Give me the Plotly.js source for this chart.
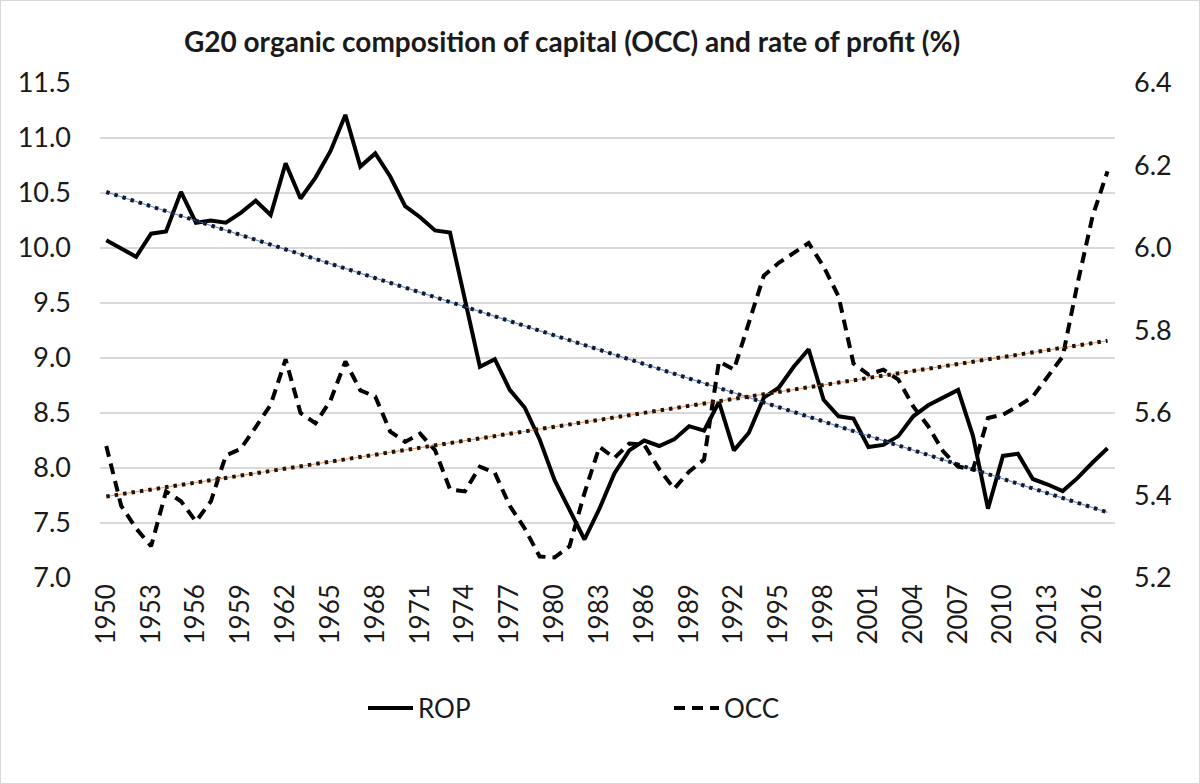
<!DOCTYPE html>
<html>
<head>
<meta charset="utf-8">
<script src="https://cdn.plot.ly/plotly-3.0.1.min.js"></script>
<style>
  html, body { margin: 0; padding: 0; background: #fff; }
  #wrap { position: relative; width: 1200px; height: 784px; }
  #chart { width: 1200px; height: 784px; }
  #frame { position: absolute; left: 0; top: 0; width: 1198px; height: 782px; border: 1px solid #d9d9d9; pointer-events: none; }
</style>
</head>
<body>
<div id="wrap"><div id="chart"></div><div id="frame"></div></div>
<script>
// ---- data ----
const years = [
  1950,1951,1952,1953,1954,1955,1956,1957,1958,1959,
  1960,1961,1962,1963,1964,1965,1966,1967,1968,1969,
  1970,1971,1972,1973,1974,1975,1976,1977,1978,1979,
  1980,1981,1982,1983,1984,1985,1986,1987,1988,1989,
  1990,1991,1992,1993,1994,1995,1996,1997,1998,1999,
  2000,2001,2002,2003,2004,2005,2006,2007,2008,2009,
  2010,2011,2012,2013,2014,2015,2016,2017
];

const rop = [
  10.07, 9.99, 9.92,10.13,10.15,10.51,10.23,10.25,10.23,10.32,
  10.43,10.30,10.77,10.45,10.64,10.88,11.21,10.74,10.86,10.65,
  10.38,10.28,10.16,10.14, 9.54, 8.92, 8.99, 8.71, 8.55, 8.26,
   7.89, 7.62, 7.35, 7.63, 7.95, 8.16, 8.25, 8.20, 8.26, 8.38,
   8.34, 8.60, 8.16, 8.32, 8.64, 8.73, 8.92, 9.08, 8.62, 8.47,
   8.45, 8.19, 8.21, 8.29, 8.47, 8.57, 8.64, 8.71, 8.29, 7.63,
   8.11, 8.13, 7.90, 7.85, 7.79, 7.91, 8.05, 8.18
];

const occ = [
  5.52, 5.375,5.32, 5.277,5.41, 5.386,5.337,5.386,5.497,5.513,
  5.566,5.62, 5.73, 5.60, 5.575,5.63, 5.725,5.655,5.64, 5.555,
  5.53, 5.55, 5.51, 5.415,5.41, 5.47, 5.455,5.375,5.32, 5.252,
  5.25, 5.277,5.406,5.518,5.491,5.526,5.523,5.464,5.416,5.458,
  5.487,5.725,5.705,5.82, 5.933,5.964,5.988,6.012,5.955,5.883,
  5.72, 5.693,5.705,5.681,5.616,5.568,5.507,5.47, 5.463,5.588,
  5.596,5.616,5.64, 5.689,5.737,5.915,6.077,6.186
];

const xTickYears = [1950,1953,1956,1959,1962,1965,1968,1971,1974,1977,1980,1983,1986,1989,1992,1995,1998,2001,2004,2007,2010,2013,2016];
const leftTicks = [7.0,7.5,8.0,8.5,9.0,9.5,10.0,10.5,11.0,11.5];
const rightTicks = [5.2,5.4,5.6,5.8,6.0,6.2,6.4];

// ---- linear (least squares) trend lines, like the spreadsheet's trendline ----
function linFit(xs, ys) {
  const n = xs.length;
  let sx = 0, sy = 0, sxx = 0, sxy = 0;
  for (let i = 0; i < n; i++) { sx += xs[i]; sy += ys[i]; sxx += xs[i]*xs[i]; sxy += xs[i]*ys[i]; }
  const b = (n*sxy - sx*sy) / (n*sxx - sx*sx);
  const a = (sy - b*sx) / n;
  return xs.map(x => a + b*x);
}
const idx = years.map((_, i) => i + 1);
const ropTrend = linFit(idx, rop);
const occTrend = linFit(idx, occ);

const FONT = 'Lato, "Open Sans", "DejaVu Sans", sans-serif';

const traces = [
  { x: years, y: rop, name: 'ROP', type: 'scatter', mode: 'lines',
    line: { color: '#000', width: 4, dash: 'solid' }, yaxis: 'y' },
  { x: years, y: occ, name: 'OCC', type: 'scatter', mode: 'lines',
    line: { color: '#000', width: 4, dash: '11px,7px' }, yaxis: 'y2' },
  { x: years, y: ropTrend, type: 'scatter', mode: 'lines', showlegend: false, hoverinfo: 'skip',
    line: { color: 'rgba(68,114,196,0.8)', width: 1.2 }, yaxis: 'y' },
  { x: years, y: ropTrend, type: 'scatter', mode: 'lines', showlegend: false, hoverinfo: 'skip',
    line: { color: '#141a2e', width: 4, dash: '3.5px,5px' }, yaxis: 'y' },
  { x: years, y: occTrend, type: 'scatter', mode: 'lines', showlegend: false, hoverinfo: 'skip',
    line: { color: 'rgba(237,125,49,0.8)', width: 1.2 }, yaxis: 'y2' },
  { x: years, y: occTrend, type: 'scatter', mode: 'lines', showlegend: false, hoverinfo: 'skip',
    line: { color: '#1e140e', width: 4, dash: '3.5px,5px' }, yaxis: 'y2' }
];

const layout = {
  width: 1200, height: 784,
  paper_bgcolor: '#fff', plot_bgcolor: '#fff',
  margin: { l: 100, r: 85, t: 83, b: 206, pad: 0 },
  font: { family: FONT, color: '#1a1a1a', size: 26 },
  title: {
    text: '<b>G20 organic composition of capital (OCC) and rate of profit (%)</b>',
    font: { family: FONT, size: 28, color: '#1a1a1a' },
    x: 572/1200, xanchor: 'center', xref: 'container',
    y: 1 - 42/784, yanchor: 'middle', yref: 'container'
  },
  xaxis: {
    type: 'linear', range: [1949.58, 2017.5],
    tickmode: 'array', tickvals: xTickYears, ticktext: xTickYears.map(String),
    tickangle: -90, ticks: '', showgrid: false, zeroline: false,
    showline: false, tickfont: { family: FONT, size: 26, color: '#1a1a1a' },
    ticklen: 0, automargin: false
  },
  yaxis: {
    range: [7.0, 11.5], tickmode: 'array', tickvals: leftTicks,
    ticktext: leftTicks.map(v => v.toFixed(1)),
    showgrid: true, gridcolor: '#d9d9d9', gridwidth: 1.5, zeroline: false,
    showline: false, ticks: '', tickfont: { family: FONT, size: 27, color: '#1a1a1a' },
    automargin: false, ticklabelstandoff: 28
  },
  yaxis2: {
    range: [5.2, 6.4], overlaying: 'y', side: 'right',
    tickmode: 'array', tickvals: rightTicks, ticktext: rightTicks.map(v => v.toFixed(1)),
    showgrid: false, zeroline: false, showline: false, ticks: '',
    tickfont: { family: FONT, size: 27, color: '#1a1a1a' }, automargin: false,
    ticklabelstandoff: 18
  },
  showlegend: true,
  legend: {
    orientation: 'h', xref: 'container', yref: 'container',
    x: 363/1200, xanchor: 'left', y: 1 - 708/784, yanchor: 'middle',
    font: { family: FONT, size: 26, color: '#1a1a1a' },
    itemwidth: 45, entrywidth: 246, entrywidthmode: 'pixels',
    bgcolor: 'rgba(0,0,0,0)', traceorder: 'normal'
  },
  hovermode: false
};

Plotly.newPlot('chart', traces, layout, { displayModeBar: false, staticPlot: true });
</script>
</body>
</html>
